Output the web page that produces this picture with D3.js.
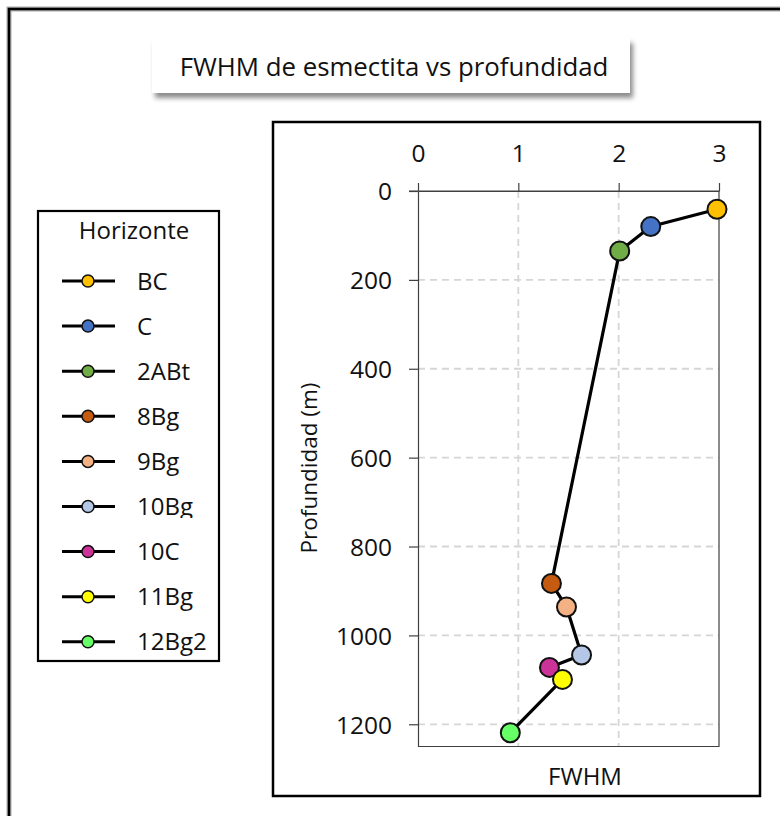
<!DOCTYPE html>
<html>
<head>
<meta charset="utf-8">
<script src="https://cdn.jsdelivr.net/npm/d3@7"></script>
<style>
  html, body { margin: 0; padding: 0; background: #fff; }
  svg { display: block; font-family: "Open Sans", "Noto Sans", sans-serif; }
</style>
</head>
<body>
<svg id="chart" width="780" height="816"></svg>
<script>
// Horizons sampled, their smectite FWHM and depth (m)
const horizons = ["BC", "C", "2ABt", "8Bg", "9Bg", "10Bg", "10C", "11Bg", "12Bg2"];
const fwhm     = [2.98, 2.32, 2.01, 1.33, 1.48, 1.63, 1.31, 1.44, 0.92];
const depth    = [41, 80, 135, 883, 936, 1044, 1072, 1099, 1219];
const colors   = ["#FFC000", "#4472C4", "#70AD47", "#C55A11", "#F4B183", "#B4C7E7", "#CC3399", "#FFFF00", "#66FF66"];
const xTicks   = [0, 1, 2, 3];
const yTicks   = [0, 200, 400, 600, 800, 1000, 1200];

const svg = d3.select("#chart");

// shadow for the title box
const defs = svg.append("defs");
const f = defs.append("filter").attr("id", "shadow").attr("x", "-10%").attr("y", "-30%").attr("width", "120%").attr("height", "170%");
f.append("feDropShadow").attr("dx", 3).attr("dy", 5).attr("stdDeviation", 2.5).attr("flood-color", "#000").attr("flood-opacity", 0.45);

// outer figure border (continues past the right and bottom edges)
svg.append("path").attr("d", "M9,820 V9 H790").attr("fill", "none").attr("stroke", "#aaa").attr("stroke-width", 5);
svg.append("path").attr("d", "M9,820 V9 H790").attr("fill", "none").attr("stroke", "#000").attr("stroke-width", 2.5);

// title
svg.append("rect").attr("x", 152).attr("y", 38).attr("width", 478).attr("height", 55)
  .attr("fill", "#fff").attr("filter", "url(#shadow)");
svg.append("text").attr("x", 394).attr("y", 76).attr("text-anchor", "middle")
  .attr("font-size", 25.8).attr("fill", "#111").text("FWHM de esmectita vs profundidad");

// plot frame
svg.append("rect").attr("x", 273).attr("y", 122).attr("width", 487).attr("height", 674)
  .attr("fill", "none").attr("stroke", "#000").attr("stroke-width", 2.5);

const x = d3.scaleLinear().domain([0, 3]).range([418, 719]);
const y = d3.scaleLinear().domain([0, 1250]).range([191, 746.5]);

// grid
const grid = svg.append("g").attr("stroke", "#d6d6d6").attr("stroke-width", 1.8).attr("stroke-dasharray", "7,5");
grid.selectAll("line.v").data(xTicks.filter(t => t > 0 && t < 3)).join("line")
  .attr("x1", d => x(d)).attr("x2", d => x(d)).attr("y1", y(0)).attr("y2", y.range()[1]);
grid.selectAll("line.h").data(yTicks.filter(t => t > 0)).join("line")
  .attr("x1", x(0)).attr("x2", x(3)).attr("y1", d => y(d)).attr("y2", d => y(d));

// right and bottom edges of the plot area
svg.append("path")
  .attr("d", `M${x(3)},${y(0)} V${y.range()[1]} H${x(0)}`)
  .attr("fill", "none").attr("stroke", "#404040").attr("stroke-width", 1.2);

// axes
const xAxis = svg.append("g").attr("transform", `translate(0,${y(0)})`)
  .call(d3.axisTop(x).tickValues(xTicks).tickFormat(d3.format("d")).tickSize(8).tickPadding(21).tickSizeOuter(0));
const yAxis = svg.append("g").attr("transform", `translate(${x(0)},0)`)
  .call(d3.axisLeft(y).tickValues(yTicks).tickFormat(d3.format("d")).tickSize(9).tickPadding(17).tickSizeOuter(0));
[xAxis, yAxis].forEach(g => {
  g.selectAll("path.domain").attr("stroke", "#404040").attr("stroke-width", 1.2);
  g.selectAll(".tick line").attr("stroke", "#404040").attr("stroke-width", 1.2);
  g.selectAll(".tick text").attr("font-size", 24.5).attr("fill", "#111")
    .attr("font-family", "\"Open Sans\", sans-serif");
});
yAxis.selectAll(".tick text").attr("dy", "0.36em");
// extend top axis line to the left tick of "0"
svg.append("line").attr("x1", x(0) - 9).attr("x2", x(3)).attr("y1", y(0)).attr("y2", y(0))
  .attr("stroke", "#404040").attr("stroke-width", 1.2);

// axis titles
svg.append("text").attr("transform", `translate(317,468) rotate(-90)`).attr("text-anchor", "middle")
  .attr("font-size", 22.5).attr("fill", "#111").text("Profundidad (m)");
svg.append("text").attr("x", 585).attr("y", 785).attr("text-anchor", "middle")
  .attr("font-size", 24).attr("fill", "#111").text("FWHM");

// series
const pts = horizons.map((h, i) => ({ h, x: fwhm[i], y: depth[i], c: colors[i] }));
svg.append("path").datum(pts)
  .attr("d", d3.line().x(d => x(d.x)).y(d => y(d.y)))
  .attr("fill", "none").attr("stroke", "#000").attr("stroke-width", 3.2).attr("stroke-linejoin", "round");
svg.append("g").selectAll("circle").data(pts).join("circle")
  .attr("cx", d => x(d.x)).attr("cy", d => y(d.y)).attr("r", 9.5)
  .attr("fill", d => d.c).attr("stroke", "#111").attr("stroke-width", 2);

// legend
const lg = svg.append("g");
lg.append("rect").attr("x", 38).attr("y", 211).attr("width", 181).attr("height", 450)
  .attr("fill", "#fff").attr("stroke", "#000").attr("stroke-width", 2.2);
lg.append("text").attr("x", 134).attr("y", 239).attr("text-anchor", "middle")
  .attr("font-size", 24).attr("fill", "#111").text("Horizonte");
// local clip for a label whose descender is cut off
defs.append("clipPath").attr("id", "lgclip")
  .append("rect").attr("x", 0).attr("y", -40).attr("width", 300).attr("height", 51.5);
const rows = lg.selectAll("g.row").data(pts).join("g").attr("class", "row")
  .attr("transform", (d, i) => `translate(0,${281 + i * 45.1})`);
rows.append("line").attr("x1", 62).attr("x2", 115).attr("stroke", "#000").attr("stroke-width", 3);
rows.append("circle").attr("cx", 88).attr("r", 6).attr("fill", d => d.c).attr("stroke", "#111").attr("stroke-width", 1.5);
rows.append("text").attr("x", 137).attr("y", 8.5).attr("font-size", 24).attr("fill", "#111").text(d => d.h);
rows.filter((d, i) => i === 5).select("text").attr("clip-path", "url(#lgclip)");
</script>
</body>
</html>
